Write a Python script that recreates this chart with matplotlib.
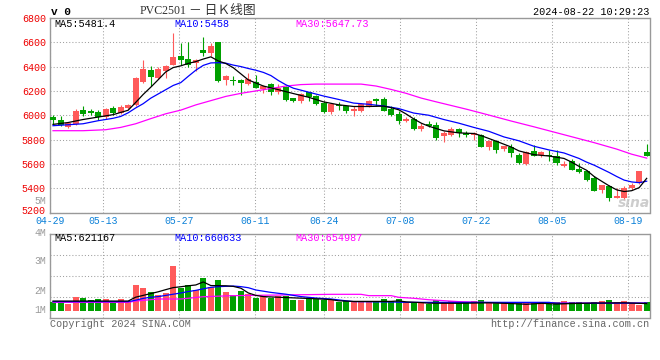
import matplotlib
matplotlib.use('Agg')
import matplotlib.pyplot as plt
import matplotlib.transforms as mtransforms
import numpy as np

# ---------------- data ----------------
dates = ['04-29', '04-30', '05-06', '05-07', '05-08', '05-09', '05-10', '05-13', '05-14', '05-15',
         '05-16', '05-17', '05-20', '05-21', '05-22', '05-23', '05-24', '05-27', '05-28', '05-29',
         '05-30', '05-31', '06-03', '06-04', '06-05', '06-06', '06-07', '06-11', '06-12', '06-13',
         '06-14', '06-17', '06-18', '06-19', '06-20', '06-21', '06-24', '06-25', '06-26', '06-27',
         '06-28', '07-01', '07-02', '07-03', '07-04', '07-05', '07-08', '07-09', '07-10', '07-11',
         '07-12', '07-15', '07-16', '07-17', '07-18', '07-19', '07-22', '07-23', '07-24', '07-25',
         '07-26', '07-29', '07-30', '07-31', '08-01', '08-02', '08-05', '08-06', '08-07', '08-08',
         '08-09', '08-12', '08-13', '08-14', '08-15', '08-16', '08-19', '08-20', '08-21', '08-22']

opens = [5985, 5963, 5903, 5928, 6045, 6038, 6026, 5985, 6059, 6018,
         6059, 6086, 6277, 6373, 6310, 6367, 6414, 6490, 6461, 6428,
         6537, 6515, 6600, 6290, 6292, 6290, 6258, 6272, 6215, 6258,
         6195, 6236, 6141, 6113, 6187, 6160, 6100, 6026, 6086, 6072,
         6031, 6031, 6078, 6132, 6132, 6053, 6012, 5950, 5969, 5890,
         5930, 5922, 5832, 5835, 5889, 5854, 5835, 5840, 5740, 5786,
         5723, 5740, 5676, 5602, 5703, 5676, 5676, 5662, 5580, 5621,
         5559, 5545, 5485, 5389, 5422, 5321, 5321, 5403, 5444, 5701]
highs = [6003, 5995, 5940, 6050, 6078, 6055, 6045, 6058, 6078, 6085,
         6095, 6313, 6455, 6405, 6400, 6414, 6674, 6590, 6598, 6460,
         6645, 6590, 6605, 6330, 6325, 6298, 6350, 6332, 6250, 6264,
         6256, 6242, 6145, 6182, 6195, 6170, 6113, 6100, 6105, 6078,
         6072, 6100, 6125, 6141, 6150, 6072, 6031, 5985, 5985, 5936,
         5950, 5941, 5867, 5903, 5895, 5867, 5860, 5850, 5800, 5800,
         5750, 5764, 5690, 5703, 5752, 5709, 5717, 5717, 5621, 5641,
         5608, 5553, 5498, 5430, 5430, 5403, 5416, 5444, 5539, 5764]
lows = [5930, 5915, 5895, 5920, 5990, 6004, 5963, 5968, 6000, 6010,
        6050, 6078, 6264, 6240, 6300, 6305, 6410, 6414, 6400, 6360,
        6490, 6485, 6270, 6245, 6250, 6165, 6250, 6223, 6182, 6168,
        6176, 6121, 6110, 6100, 6119, 6085, 6018, 6012, 6040, 6018,
        5990, 6025, 6070, 6072, 6035, 5996, 5930, 5945, 5875, 5867,
        5903, 5800, 5777, 5826, 5818, 5818, 5793, 5735, 5716, 5690,
        5710, 5657, 5602, 5594, 5662, 5654, 5621, 5594, 5575, 5547,
        5526, 5457, 5375, 5362, 5294, 5321, 5307, 5389, 5438, 5668]
closes = [5957, 5920, 5936, 6031, 6012, 6022, 5985, 6050, 6018, 6067,
          6086, 6305, 6379, 6313, 6379, 6406, 6482, 6450, 6414, 6455,
          6510, 6570, 6283, 6320, 6280, 6264, 6297, 6228, 6244, 6195,
          6223, 6127, 6113, 6176, 6149, 6092, 6023, 6092, 6072, 6031,
          6051, 6094, 6121, 6121, 6039, 6004, 5950, 5972, 5890, 5914,
          5914, 5813, 5854, 5889, 5854, 5835, 5854, 5740, 5786, 5717,
          5744, 5690, 5608, 5699, 5668, 5699, 5668, 5608, 5602, 5553,
          5537, 5471, 5381, 5425, 5321, 5335, 5403, 5425, 5539, 5668]
# volume, millions
volumes = [0.72, 0.72, 0.58, 1.19, 1.11, 0.92, 1.00, 1.00, 0.72, 1.00,
           0.78, 2.17, 1.94, 1.61, 1.33, 1.47, 3.78, 1.89, 2.17, 1.75,
           2.78, 2.03, 2.58, 1.61, 1.33, 1.69, 1.42, 1.11, 1.28, 1.11,
           1.28, 1.28, 0.92, 0.92, 1.00, 1.00, 0.92, 0.92, 0.78, 0.86,
           0.78, 0.72, 0.72, 0.78, 1.00, 0.83, 1.00, 0.72, 0.72, 0.72,
           0.58, 0.92, 0.72, 0.86, 0.78, 0.72, 0.83, 0.92, 0.72, 0.72,
           0.72, 0.72, 0.64, 0.64, 0.72, 0.64, 0.58, 0.72, 0.83, 0.72,
           0.72, 0.58, 0.72, 0.83, 0.92, 0.72, 0.83, 0.64, 0.50, 0.72]

# price moving averages (read at selected day indices)
ma5_idx = [0, 2, 4, 6, 8, 10, 11, 12, 13, 14, 15, 16, 17, 18, 19, 20, 21, 22, 23, 24, 25, 26, 28, 30,
           32, 34, 36, 38, 40, 42, 44, 45, 46, 47, 48, 49, 50, 52, 54, 56, 57, 59, 61, 62, 64, 66,
           68, 69, 70, 71, 72, 73, 74, 75, 76, 77, 78, 79]
ma5_val = [5925, 5940, 5965, 5985, 6005, 6041, 6105, 6171, 6230, 6292, 6356, 6392, 6406, 6426, 6441,
           6462, 6480, 6446, 6425, 6390, 6340, 6290, 6240, 6210, 6178, 6148, 6110, 6086, 6072, 6072,
           6075, 6062, 6045, 6010, 5970, 5935, 5910, 5872, 5855, 5850, 5832, 5786, 5738, 5707, 5676,
           5665, 5645, 5615, 5580, 5548, 5497, 5458, 5420, 5387, 5373, 5380, 5405, 5481.4]
ma10_idx = [0, 4, 6, 8, 9, 10, 11, 12, 13, 14, 15, 16, 17, 18, 19, 20, 21, 22, 23, 24, 25, 26, 27,
            28, 29, 30, 31, 32, 34, 36, 38, 40, 42, 44, 46, 48, 50, 52, 54, 56, 58, 60, 62, 64, 66,
            68, 70, 71, 72, 73, 74, 75, 76, 77, 78, 79]
ma10_val = [5914, 5930, 5955, 5975, 5990, 6020, 6060, 6095, 6140, 6175, 6210, 6245, 6268, 6320, 6370,
            6410, 6430, 6432, 6428, 6412, 6400, 6384, 6370, 6352, 6326, 6285, 6250, 6222, 6190, 6158,
            6130, 6100, 6090, 6076, 6055, 6018, 6000, 5965, 5935, 5900, 5868, 5822, 5790, 5745, 5715,
            5690, 5645, 5615, 5590, 5560, 5530, 5497, 5467, 5452, 5446, 5458]
ma30_idx = [0, 4, 7, 9, 11, 13, 15, 17, 19, 21, 23, 25, 27, 29, 31, 33, 35, 41, 43, 45, 47, 49, 51,
            53, 55, 57, 59, 61, 64, 68, 72, 75, 77, 79]
ma30_val = [5873, 5873, 5881, 5900, 5930, 5972, 6012, 6042, 6085, 6120, 6155, 6180, 6200, 6220, 6240,
            6252, 6256, 6256, 6240, 6212, 6180, 6141, 6110, 6080, 6050, 6018, 5985, 5952, 5905, 5840,
            5775, 5722, 5680, 5647.73]

# volume moving averages (millions)
vma5_idx = [0, 10, 11, 12, 13, 14, 15, 16, 17, 18, 19, 20, 21, 23, 24, 25, 26, 27, 28, 31, 35, 37,
            38, 40, 45, 46, 47, 49, 50, 54, 58, 61, 63, 65, 67, 69, 72, 76, 79]
vma5_val = [0.83, 0.83, 1.15, 1.30, 1.45, 1.60, 1.78, 1.95, 2.02, 2.10, 2.17, 2.42, 2.12, 2.10, 2.05,
            1.90, 1.50, 1.30, 1.20, 1.12, 1.02, 0.95, 0.85, 0.80, 0.80, 0.84, 0.76, 0.70, 0.65, 0.64,
            0.68, 0.62, 0.56, 0.64, 0.58, 0.62, 0.66, 0.68, 0.62]
vma10_idx = [0, 10, 11, 12, 13, 14, 16, 17, 18, 19, 20, 21, 22, 24, 25, 26, 27, 29, 31, 33, 35, 37,
             39, 40, 45, 47, 60, 66, 67, 79]
vma10_val = [0.78, 0.78, 0.90, 1.05, 1.15, 1.20, 1.40, 1.50, 1.62, 1.72, 1.85, 1.97, 2.03, 2.08, 2.03,
             1.94, 1.75, 1.55, 1.40, 1.20, 1.08, 1.00, 0.85, 0.78, 0.75, 0.72, 0.72, 0.72, 0.64, 0.66]
vma30_idx = [0, 10, 11, 14, 17, 18, 20, 24, 37, 41, 42, 45, 46, 48, 50, 52, 54, 58, 64, 66, 79]
vma30_val = [0.72, 0.72, 0.83, 1.00, 1.00, 1.06, 1.19, 1.28, 1.39, 1.39, 1.28, 1.28, 1.14, 1.06, 0.94,
             0.86, 0.78, 0.70, 0.68, 0.66, 0.655]

tick_dates = ['04-29', '05-13', '05-27', '06-11', '06-24', '07-08', '07-22', '08-05', '08-19']
price_ticks = [5200, 5400, 5600, 5800, 6000, 6200, 6400, 6600, 6800]
vol_labels = ['5M', '4M', '3M', '2M', '1M']

title_code = 'PVC2501'
title_cn = '－ 日Ｋ线图'
timestamp = '2024-08-22 10:29:23'
price_ma_text = ['MA5:5481.4', 'MA10:5458', 'MA30:5647.73']
vol_ma_text = ['MA5:621167', 'MA10:660633', 'MA30:654987']

# ---------------- style ----------------
RED = '#ff5a5a'
GREEN = '#00a000'
GRID = '#a0a0a0'
MONO = ['Liberation Mono', 'DejaVu Sans Mono']
plt.rcParams['font.family'] = MONO

W, H = 660, 360
fig = plt.figure(figsize=(W / 100, H / 100), dpi=100)
fig.patch.set_facecolor('white')


def rect(x0, y0, x1, y1):
    return [x0 / W, 1 - y1 / H, (x1 - x0) / W, (y1 - y0) / H]


def ftext(x, y, s, **kw):
    fig.text(x / W, 1 - y / H, s, **kw)


ax = fig.add_axes(rect(50, 17.9, 649.5, 212.6))
axv = fig.add_axes(rect(50, 234, 649.5, 318))

STEP = 7.515     # px per candle
GSTEP = 7.6      # px per day for date grid
x_left = -3 / STEP
x_right = (649.5 - 53) / STEP

n = len(dates)
xs = np.arange(n)
o = np.array(opens, float)
c = np.array(closes, float)
h = np.array(highs, float)
l = np.array(lows, float)
up = c >= o
cols = [RED if u else GREEN for u in up]

# candles
ax.vlines(xs, l, h, colors=cols, linewidth=0.8, zorder=3)
body_bottom = np.minimum(o, c)
body_h = np.maximum(np.abs(c - o), 8)
ax.bar(xs, body_h, bottom=body_bottom, width=0.8, color=cols, linewidth=0, zorder=4)

ax.plot(ma30_idx, ma30_val, color='#ff00ff', lw=0.9, zorder=5)
ax.plot(ma10_idx, ma10_val, color='#0000ff', lw=0.9, zorder=5)
ax.plot(ma5_idx, ma5_val, color='#000000', lw=0.9, zorder=6)

ax.set_xlim(x_left, x_right)
ax.set_ylim(5200, 6800)

# volume
axv.bar(xs, volumes, width=0.8, color=cols, linewidth=0, zorder=3)
axv.plot(vma30_idx, vma30_val, color='#ff00ff', lw=0.9, zorder=5)
axv.plot(vma10_idx, vma10_val, color='#0000ff', lw=0.9, zorder=5)
axv.plot(vma5_idx, vma5_val, color='#000000', lw=0.9, zorder=6)
axv.set_xlim(x_left, x_right)
v_lo, v_hi = -7 / 12, 77 / 12
axv.set_ylim(v_lo, v_hi)

# grids / ticks
tick_pos = [(dates.index(d) * GSTEP - 3) / STEP for d in tick_dates]
for a in (ax, axv):
    a.set_xticks(tick_pos)
    a.grid(True, color=GRID, linestyle=(0, (1, 2)), linewidth=0.75, zorder=0)
    for s in a.spines.values():
        s.set_color('#999999')
        s.set_linewidth(1.0)
    a.tick_params(length=0)
    a.set_axisbelow(True)

ax.set_xticklabels(tick_dates, color='#0b80d8', fontsize=7.1)
ax.tick_params(axis='x', pad=2.2)
ax.set_yticks(price_ticks)
ax.set_yticklabels([str(p) for p in price_ticks], color='#ee0000', fontsize=7.2)
ax.tick_params(axis='y', pad=3)

axv.set_xticklabels([])
axv.set_yticks([v_lo + (v_hi - v_lo) * k / 4 for k in range(1, 4)])
axv.set_yticklabels([])

# lift the lowest price label a little (as in the reference) so it clears the date row
low_tick = ax.yaxis.get_major_ticks()[0]
low_tick.label1.set_transform(low_tick.label1.get_transform() +
                              mtransforms.ScaledTranslation(0, 3 / 100, fig.dpi_scale_trans))

# volume axis labels
for lab, yy in zip(vol_labels, [200.5, 232.5, 260.7, 290.5, 310.3]):
    ftext(46.5, yy, lab, ha='right', va='center', color='#9a9a9a', fontsize=7.1)

# header
ftext(51, 12, 'v 0', ha='left', va='center', color='#000000', fontsize=8, fontweight='bold')
ftext(140, 10.5, title_code, ha='left', va='center', color='#333333', fontsize=8.6,
      family=['Liberation Serif', 'DejaVu Serif'])
ftext(189, 10.5, title_cn, ha='left', va='center', color='#333333', fontsize=9.2,
      family=['Noto Sans CJK SC', 'DejaVu Sans'])
ftext(649, 11.7, timestamp, ha='right', va='center', color='#000000', fontsize=7.3)

ma_cols = ['#000000', '#0000ff', '#ff00ff']
for s, xx, cc in zip(price_ma_text, [54.3, 174, 295], ma_cols):
    ftext(xx, 23.8, s, ha='left', va='center', color=cc, fontsize=7.3)
for s, xx, cc in zip(vol_ma_text, [54.3, 174, 295], ma_cols):
    ftext(xx, 238.3, s, ha='left', va='center', color=cc, fontsize=7.3)

ftext(50, 323.8, 'Copyright 2024 SINA.COM', ha='left', va='center', color='#666666', fontsize=7.3)
ftext(649, 323.8, 'http://finance.sina.com.cn', ha='right', va='center', color='#666666', fontsize=7.3)

# watermark
ftext(634, 203, 'sina', ha='center', va='center', color='#c8c8c8', fontsize=10,
      fontstyle='italic', fontweight='bold', family=['DejaVu Sans'], alpha=0.9)

fig.savefig('out.png', dpi=100, facecolor='white')
